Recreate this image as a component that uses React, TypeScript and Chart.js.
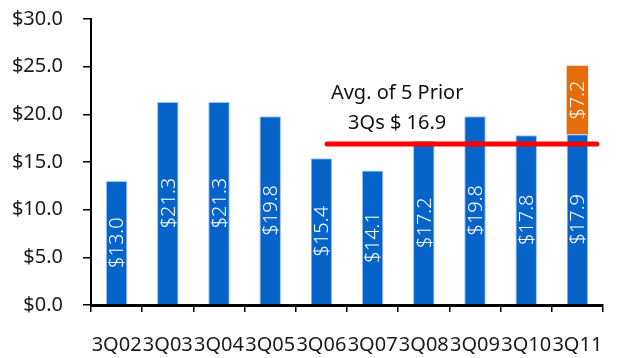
import React, { useEffect, useRef } from "react";
import { Chart, registerables } from "chart.js";

Chart.register(...registerables);

const categories = ["3Q02", "3Q03", "3Q04", "3Q05", "3Q06", "3Q07", "3Q08", "3Q09", "3Q10", "3Q11"];
const baseValues = [13.0, 21.3, 21.3, 19.8, 15.4, 14.1, 17.2, 19.8, 17.8, 17.9];
const extraValues = [null, null, null, null, null, null, null, null, null, 7.2];
const avgValue = 16.9;
const avgLabel = ["Avg. of 5 Prior", "3Qs $ 16.9"];
const avgFromIndex = 4.11;
const avgToIndex = 9.38;

const FONT = "'Noto Sans', sans-serif";

const overlayPlugin = {
  id: "overlay",
  afterDatasetsDraw(chart: any) {
    const ctx = chart.ctx;
    const x = chart.scales.x;
    const y = chart.scales.y;
    const cat = (x.right - x.left) / categories.length;
    ctx.save();
    ctx.fillStyle = "#ffffff";
    ctx.font = `300 20px ${FONT}`;
    ctx.textAlign = "center";
    ctx.textBaseline = "middle";
    chart.data.datasets.forEach((ds: any, di: number) => {
      const meta = chart.getDatasetMeta(di);
      meta.data.forEach((bar: any, i: number) => {
        const v = ds.data[i];
        if (v == null) return;
        const cx = bar.x;
        const cy = (bar.y + bar.base) / 2;
        ctx.save();
        ctx.translate(cx, cy);
        ctx.rotate(-Math.PI / 2);
        ctx.fillText("$" + v.toFixed(1), 0, 1);
        ctx.restore();
      });
    });
    ctx.restore();
    const yAvg = y.getPixelForValue(avgValue);
    const x1 = x.left + (avgFromIndex + 0.5) * cat;
    const x2 = x.left + (avgToIndex + 0.5) * cat;
    ctx.save();
    ctx.strokeStyle = "#ff0000";
    ctx.lineWidth = 5;
    ctx.lineCap = "round";
    ctx.beginPath();
    ctx.moveTo(x1, yAvg);
    ctx.lineTo(x2, yAvg);
    ctx.stroke();
    ctx.fillStyle = "#111111";
    ctx.font = `20px ${FONT}`;
    ctx.textAlign = "center";
    ctx.textBaseline = "middle";
    const tx = x.left + (5.48 + 0.5) * cat;
    ctx.fillText(avgLabel[0], tx, yAvg - 51);
    ctx.fillText(avgLabel[1], tx, yAvg - 21);
    ctx.restore();
  },
};

export default function App() {
  const ref = useRef<HTMLCanvasElement>(null);
  useEffect(() => {
    document.body.style.margin = "0";
    const chart = new Chart(ref.current!, {
      type: "bar",
      data: {
        labels: categories,
        datasets: [
          {
            data: baseValues,
            backgroundColor: "#0563C9",
            borderColor: "#9CC2F0",
            borderWidth: 1,
            categoryPercentage: 1,
            barPercentage: 0.42,
          },
          {
            data: extraValues as any,
            backgroundColor: "#E46C0A",
            borderWidth: 0,
            categoryPercentage: 1,
            barPercentage: 0.42,
          },
        ],
      },
      options: {
        animation: false,
        responsive: false,
        maintainAspectRatio: false,
        layout: { padding: { top: 19, right: 17, left: 0, bottom: 0 } },
        plugins: { legend: { display: false }, tooltip: { enabled: false } },
        scales: {
          x: {
            stacked: true,
            border: { display: true, color: "#000", width: 3 },
            grid: { drawOnChartArea: false, drawTicks: true, tickLength: 7, color: "#000", lineWidth: 1.5, offset: true },
            ticks: { color: "#1a1a1a", font: { family: FONT, size: 20 }, padding: 21, maxRotation: 0, autoSkip: false },
            afterFit: (s: any) => { s.height = 53; s.paddingLeft = 0; s.paddingRight = 0; },
          },
          y: {
            stacked: true,
            min: 0,
            max: 30,
            border: { display: true, color: "#000", width: 2 },
            grid: { drawOnChartArea: false, drawTicks: true, tickLength: 8, color: "#000", lineWidth: 1.5 },
            ticks: {
              stepSize: 5,
              color: "#1a1a1a",
              font: { family: FONT, size: 20 },
              padding: 20,
              callback: (v: any) => "$" + Number(v).toFixed(1),
            },
            afterFit: (s: any) => { s.width = 91; s.paddingTop = 0; s.paddingBottom = 0; },
          },
        },
      },
      plugins: [overlayPlugin],
    });
    return () => chart.destroy();
  }, []);
  return (
    <div style={{ width: 620, height: 358 }}>
      <canvas ref={ref} width={620} height={358} style={{ width: 620, height: 358, display: "block" }} />
    </div>
  );
}
